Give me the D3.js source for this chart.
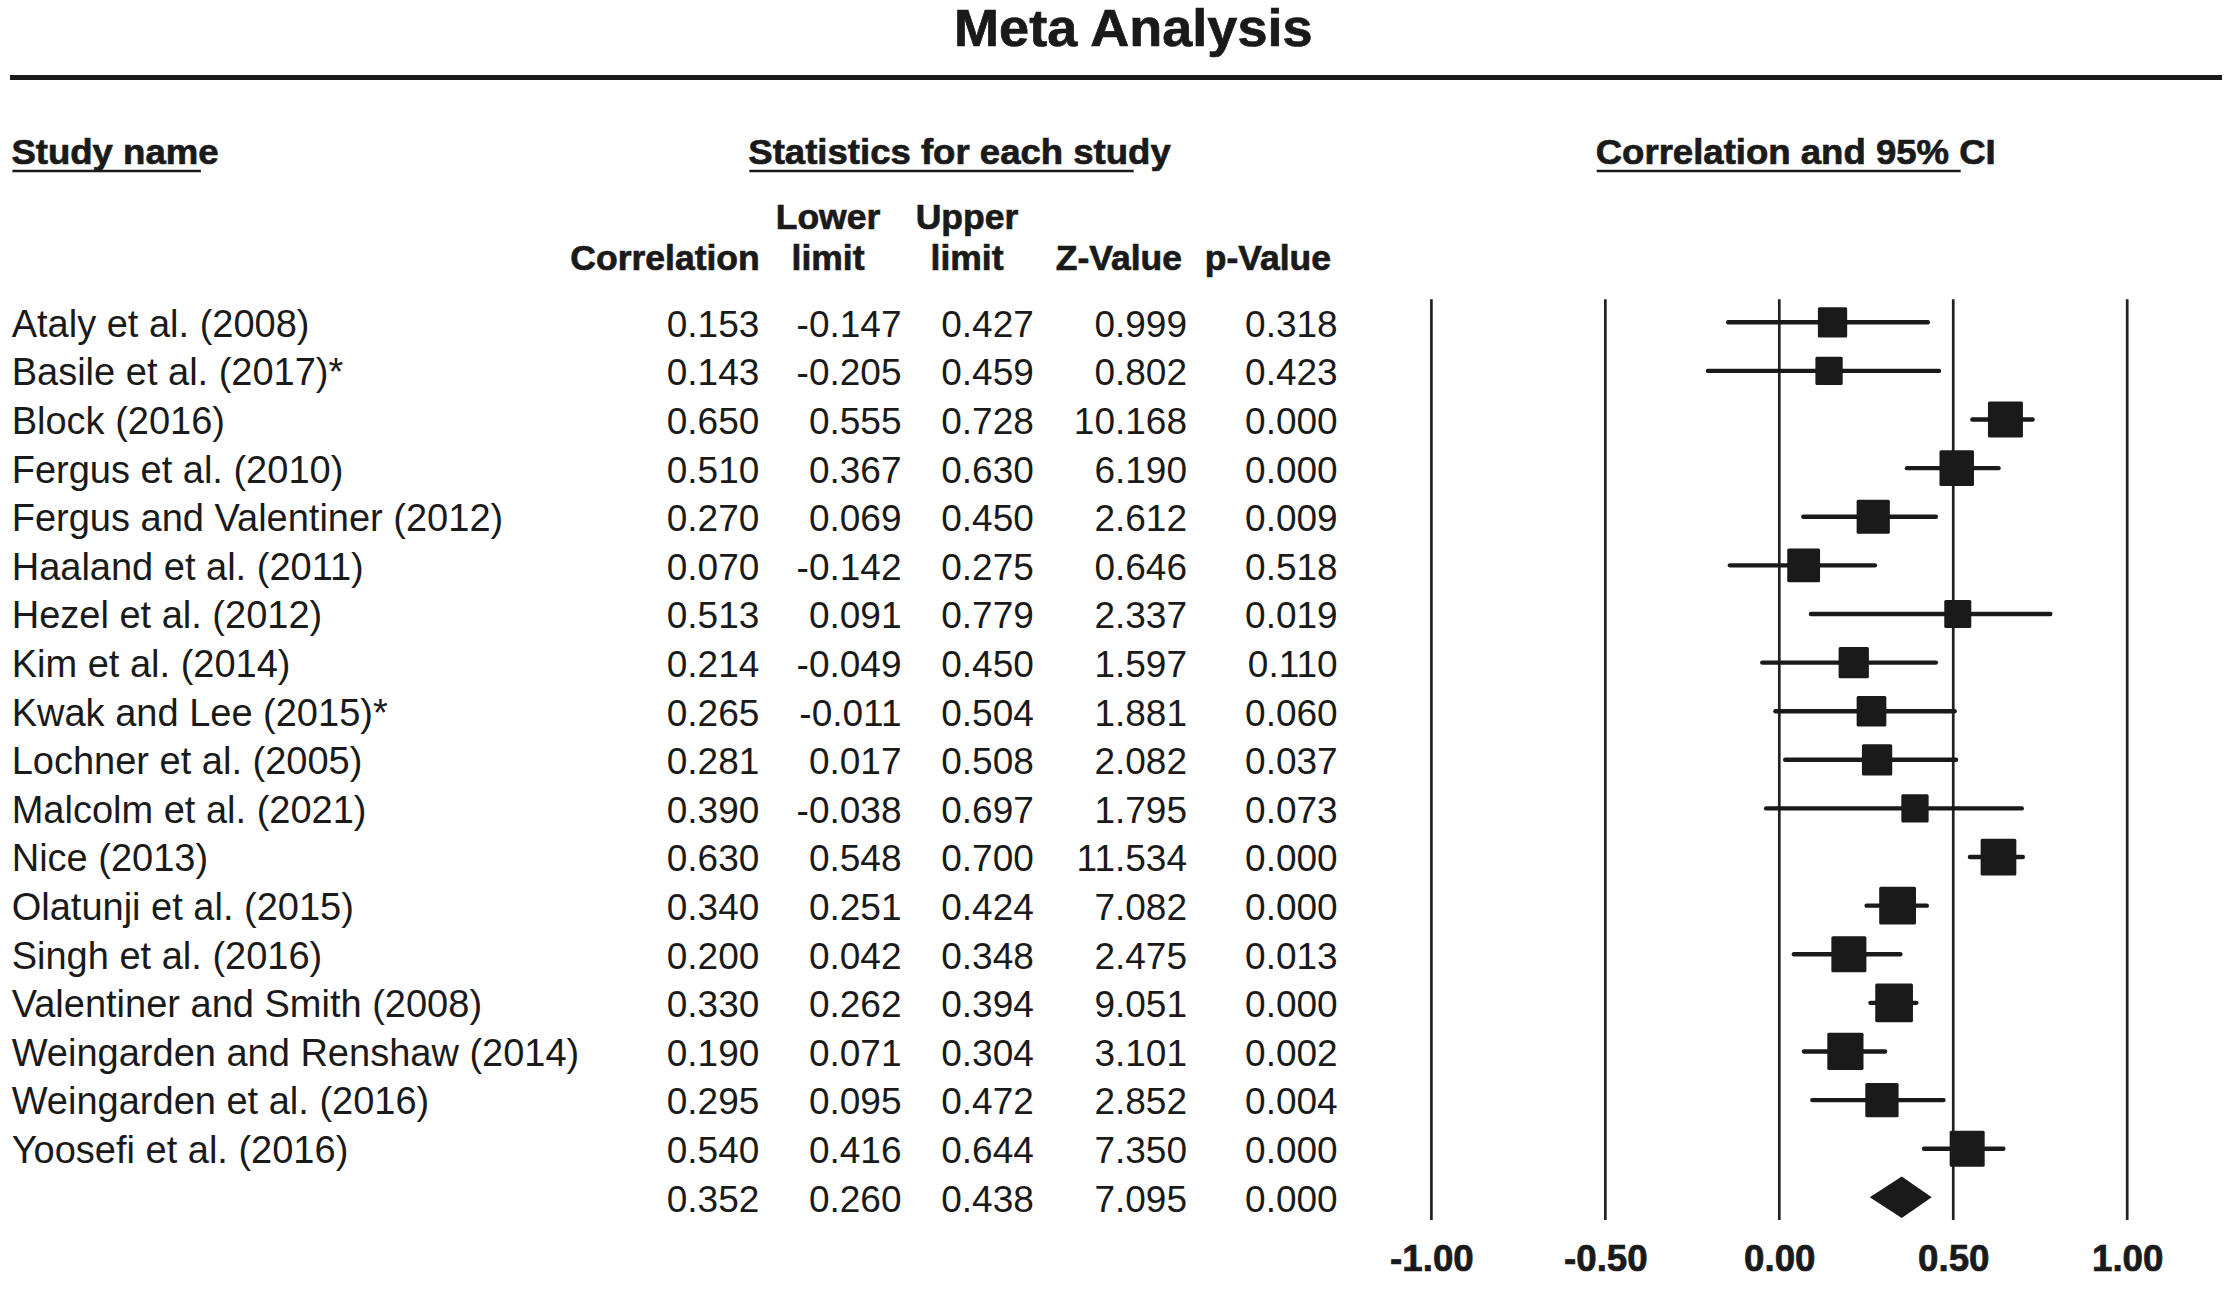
<!DOCTYPE html>
<html>
<head>
<meta charset="utf-8">
<script src="https://cdn.jsdelivr.net/npm/d3@7"></script>
<style>
  html, body { margin: 0; padding: 0; background: #fff; }
  svg { display: block; }
  text { font-family: "Liberation Sans", Arial, Helvetica, sans-serif; fill: #1a1a1a; }
</style>
</head>
<body>
<svg id="chart" width="2234" height="1298"></svg>
<script>
// ---------------- data ----------------
const studies = [
  "Ataly et al. (2008)",
  "Basile et al. (2017)*",
  "Block (2016)",
  "Fergus et al. (2010)",
  "Fergus and Valentiner (2012)",
  "Haaland et al. (2011)",
  "Hezel et al. (2012)",
  "Kim et al. (2014)",
  "Kwak and Lee (2015)*",
  "Lochner et al. (2005)",
  "Malcolm et al. (2021)",
  "Nice (2013)",
  "Olatunji et al. (2015)",
  "Singh et al. (2016)",
  "Valentiner and Smith (2008)",
  "Weingarden and Renshaw (2014)",
  "Weingarden et al. (2016)",
  "Yoosefi et al. (2016)"
];
const correlation = [0.153, 0.143, 0.650, 0.510, 0.270, 0.070, 0.513, 0.214, 0.265, 0.281, 0.390, 0.630, 0.340, 0.200, 0.330, 0.190, 0.295, 0.540];
const lowerLimit  = [-0.147, -0.205, 0.555, 0.367, 0.069, -0.142, 0.091, -0.049, -0.011, 0.017, -0.038, 0.548, 0.251, 0.042, 0.262, 0.071, 0.095, 0.416];
const upperLimit  = [0.427, 0.459, 0.728, 0.630, 0.450, 0.275, 0.779, 0.450, 0.504, 0.508, 0.697, 0.700, 0.424, 0.348, 0.394, 0.304, 0.472, 0.644];
const zValue      = [0.999, 0.802, 10.168, 6.190, 2.612, 0.646, 2.337, 1.597, 1.881, 2.082, 1.795, 11.534, 7.082, 2.475, 9.051, 3.101, 2.852, 7.350];
const pValue      = [0.318, 0.423, 0.000, 0.000, 0.009, 0.518, 0.019, 0.110, 0.060, 0.037, 0.073, 0.000, 0.000, 0.013, 0.000, 0.002, 0.004, 0.000];
// relative weights (%)
const weight      = [4.44, 3.86, 6.35, 6.16, 5.71, 5.57, 3.78, 4.75, 4.57, 4.75, 3.86, 6.60, 7.01, 6.35, 7.36, 6.79, 5.74, 6.35];
// summary (pooled) row: correlation, lower, upper, Z, p
const summaryStats = [0.352, 0.260, 0.438, 7.095, 0.000];
const xTicks = [-1.00, -0.50, 0.00, 0.50, 1.00];

const titleText = "Meta Analysis";
const sectionHeaders = ["Study name", "Statistics for each study", "Correlation and 95% CI"];
const colHeaderTop = ["", "Lower", "Upper", "", ""];
const colHeaderBottom = ["Correlation", "limit", "limit", "Z-Value", "p-Value"];

// ---------------- layout ----------------
const svg = d3.select("#chart");
const INK = "#1a1a1a";

const rowKeys = studies.concat(["__summary"]);
const y = d3.scalePoint().domain(rowKeys).range([322.3, 1197.3]);
const x = d3.scaleLinear().domain([-1, 1]).range([1431.4, 2127.2]);
const boxSide = d3.scaleSqrt().domain([0, d3.max(weight)]).range([0, 37.7]);

function boldText(parent, tx, ty, str, fs, anchor, stretch) {
  return parent.append("text")
    .attr("transform", `translate(${tx},${ty}) scale(${stretch},1)`)
    .attr("text-anchor", anchor || "start")
    .attr("font-weight", "bold")
    .attr("font-size", fs)
    .attr("stroke", INK).attr("stroke-width", 0.7)
    .text(str);
}

// title
boldText(svg, 1133.3, 45.5, titleText, 51, "middle", 1.06);
svg.append("line")
  .attr("x1", 10).attr("x2", 2222).attr("y1", 77.5).attr("y2", 77.5)
  .attr("stroke", INK).attr("stroke-width", 5);

// section headers with underline
const sectionX = [11.4, 748.3, 1595.7];
sectionHeaders.forEach((h, i) => {
  const t = boldText(svg, sectionX[i], 164, h, 35.5, "start", 1.03);
  const w = t.node().getComputedTextLength() * 1.03;
  svg.append("line")
    .attr("x1", sectionX[i] + 1).attr("x2", sectionX[i] + 1 + w * 0.91)
    .attr("y1", 171).attr("y2", 171)
    .attr("stroke", INK).attr("stroke-width", 2.6);
});

// column headers
const headerX = [759.7, 828, 967, 1182, 1331];
const headerAnchor = ["end", "middle", "middle", "end", "end"];
colHeaderTop.forEach((h, i) => { if (h) boldText(svg, headerX[i], 229, h, 35.5, headerAnchor[i], 1.0); });
colHeaderBottom.forEach((h, i) => boldText(svg, headerX[i], 270, h, 35.5, headerAnchor[i], 1.0));

// table body
const numRight = [759.3, 901.5, 1033.8, 1187, 1337.7];
const fmt = v => v.toFixed(3);
const rowsData = studies.map((s, i) => ({
  key: s, name: s,
  vals: [correlation[i], lowerLimit[i], upperLimit[i], zValue[i], pValue[i]]
}));
rowsData.push({ key: "__summary", name: "", vals: summaryStats });

const body = svg.append("g").attr("font-size", 37);
const rowG = body.selectAll("g.row").data(rowsData).join("g")
  .attr("class", "row")
  .attr("transform", d => `translate(0,${y(d.key) + 14.4})`);
rowG.append("text").attr("x", 11.7).attr("y", 0).attr("font-size", 38).text(d => d.name);
rowG.selectAll("text.num").data(d => d.vals).join("text")
  .attr("class", "num")
  .attr("x", (v, j) => numRight[j]).attr("y", 0)
  .attr("text-anchor", "end")
  .text(fmt);

// forest plot grid lines
const plot = svg.append("g");
plot.selectAll("line.grid").data(xTicks).join("line")
  .attr("class", "grid")
  .attr("x1", d => x(d)).attr("x2", d => x(d))
  .attr("y1", 299.3).attr("y2", 1220)
  .attr("stroke", "#222").attr("stroke-width", 2.7);

// CI lines
const ci = studies.map((s, i) => ({ key: s, r: correlation[i], lo: lowerLimit[i], hi: upperLimit[i], w: weight[i] }));
plot.selectAll("line.ci").data(ci).join("line")
  .attr("class", "ci")
  .attr("x1", d => x(d.lo)).attr("x2", d => x(d.hi))
  .attr("y1", d => y(d.key)).attr("y2", d => y(d.key))
  .attr("stroke", INK).attr("stroke-width", 4.4).attr("stroke-linecap", "round");

// boxes
plot.selectAll("rect.box").data(ci).join("rect")
  .attr("class", "box")
  .attr("x", d => x(d.r) - boxSide(d.w) / 2)
  .attr("y", d => y(d.key) - boxSide(d.w) * 1.03 / 2)
  .attr("width", d => boxSide(d.w))
  .attr("height", d => boxSide(d.w) * 1.03)
  .attr("rx", 1.5)
  .attr("fill", INK);

// summary diamond
const ys = y("__summary");
const dh = 20.7;
plot.append("path")
  .attr("d", d3.line()([
    [x(summaryStats[1]), ys],
    [x(summaryStats[0]), ys - dh],
    [x(summaryStats[2]), ys],
    [x(summaryStats[0]), ys + dh]
  ]) + "Z")
  .attr("fill", INK);

// x axis labels
const axis = svg.append("g")
  .attr("transform", "translate(0,1271)")
  .call(d3.axisBottom(x).tickValues(xTicks).tickFormat(d => d.toFixed(2)).tickSize(0));
axis.select(".domain").remove();
axis.selectAll("text")
  .attr("y", 0).attr("dy", null)
  .attr("font-size", 36)
  .attr("font-weight", "bold")
  .attr("font-family", "'Liberation Sans', Arial, sans-serif")
  .attr("fill", INK)
  .attr("stroke", INK).attr("stroke-width", 0.7)
  .attr("transform", "scale(1.02,1)");
</script>
</body>
</html>
